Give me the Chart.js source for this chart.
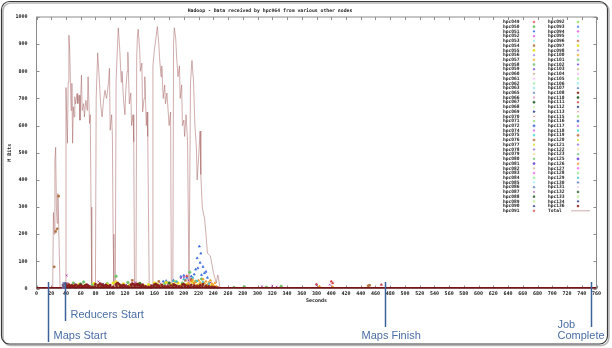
<!DOCTYPE html>
<html>
<head>
<meta charset="utf-8">
<title>Hadoop - Data received by hpc064</title>
<script src="https://cdn.jsdelivr.net/npm/chart.js@4.4.1/dist/chart.umd.min.js"></script>
<style>
  html, body { margin: 0; padding: 0; background: #fff; }
  #chart { display: block; }
</style>
</head>
<body>
<canvas id="chart" width="612" height="348"></canvas>
<script>
// --- datos ---
const hostsLeft = ['hpc049','hpc050','hpc051','hpc052','hpc053','hpc054','hpc055','hpc056','hpc057','hpc058',
  'hpc059','hpc060','hpc061','hpc062','hpc063','hpc065','hpc066','hpc067','hpc068','hpc069',
  'hpc070','hpc071','hpc072','hpc074','hpc075','hpc076','hpc077','hpc078','hpc079','hpc080',
  'hpc081','hpc082','hpc083','hpc084','hpc085','hpc086','hpc087','hpc088','hpc089','hpc090','hpc091'];
const hostsRight = ['hpc092','hpc093','hpc094','hpc095','hpc096','hpc097','hpc098','hpc100','hpc101','hpc102',
  'hpc103','hpc104','hpc105','hpc106','hpc107','hpc108','hpc110','hpc111','hpc112','hpc113',
  'hpc115','hpc116','hpc117','hpc118','hpc119','hpc120','hpc121','hpc122','hpc123','hpc125',
  'hpc126','hpc127','hpc128','hpc129','hpc130','hpc131','hpc132','hpc133','hpc134','hpc136'];

const xTicksMax = 760;   // Seconds
const yTicksMax = 1000;  // M Bits

// Total (línea)
const totalSeconds = [0,20,22,23,24,25,26,27,28,29,30,31,32,39,
  40,41,42,43,44,45,46,47,48,49,50,51,52,53,55,56,58,59,61,62,64,65,67,69,70,72,73,74,75,80,
  81,83,85,87,89,91,93,95,96,98,99,100,102,103,104,105,107,
  108,110,111,113,115,116,118,120,121,123,124,126,128,129,131,132,133,135,
  136,137,138,140,141,143,144,146,147,149,150,151,153,157,
  158,160,162,164,166,167,169,170,172,174,175,177,179,180,182,183,185,
  186,187,189,190,192,194,195,197,198,200,201,203,205,207,208,
  209,211,212,213,215,217,218,220,222,223,225,227,228,230,232,234,236,238,240,242,244,246,247,249,760];
const totalMbits = [0,0,0,280,200,470,520,300,240,350,250,120,0,0,
  740,620,535,760,933,878,767,656,756,535,669,632,706,680,718,681,712,620,786,656,681,632,693,656,780,608,640,300,0,0,
  700,868,780,681,632,693,730,700,718,767,811,583,640,560,200,0,0,
  760,900,960,880,760,800,700,640,720,800,870,680,720,600,640,540,0,0,
  850,930,955,880,800,830,650,700,780,600,650,560,0,0,
  820,880,920,965,900,850,780,820,700,750,680,720,640,600,650,0,0,
  900,960,920,860,780,820,700,750,600,620,560,640,540,0,0,
  760,840,800,770,600,520,400,480,580,420,300,270,260,200,130,125,120,90,60,40,20,50,40,0,0];

// nodos inactivos: todo el trabajo a 0
const idleSeconds = [0, 760];
const idleMbits = [0, 0];

// puntos de los nodos (segundos, M bits)
const hpc136Points = [[36,12],[38,18],[40,15],[42,10],[44,14],[46,9],[48,12],[50,8],[52,11],[54,13],[56,7],[58,10],
  [60,12],[62,9],[64,6],[66,11],[68,14],[70,10],[72,8],[76,5],[80,16],[84,12],[86,18],[88,14],[90,11],[92,9],
  [94,13],[96,10],[98,8],[100,12],[104,6],[108,15],[110,20],[112,16],[114,12],[116,9],[118,13],[120,10],[124,7],
  [128,14],[130,18],[132,15],[134,12],[136,17],[138,14],[140,11],[142,9],[144,13],[148,8],[152,6],[156,10],
  [160,14],[162,17],[164,12],[166,10],[170,13],[174,9],[178,8],[182,11],[186,15],[188,12],[190,10],[194,8],
  [198,14],[200,16],[202,12],[206,10],[210,13],[214,11],[218,9],[222,12],[226,15],[230,10],[234,8],[238,6],[242,5],[246,3]];
const hpc108Points = [[37,6],[41,9],[45,5],[49,7],[53,4],[57,8],[61,5],[65,9],[69,6],[73,4],[79,7],[83,9],[87,6],
  [91,5],[95,8],[99,6],[103,4],[109,9],[113,7],[117,5],[121,8],[125,6],[129,9],[133,7],[137,10],[141,6],[145,8],
  [149,5],[155,4],[159,8],[163,9],[167,6],[171,7],[175,5],[179,6],[185,8],[189,9],[193,7],[197,6],[201,8],[205,9],
  [209,7],[213,6],[217,8],[221,7],[225,9],[229,6],[233,5],[237,4],[241,3]];
const hpc055Points = [[44,14],[50,10],[58,16],[66,12],[78,18],[84,12],[96,15],[104,20],[108,24],[112,14],[118,17],
  [126,12],[140,18],[146,10],[152,14],[160,20],[164,16],[170,12],[176,22],[180,18],[184,14],[188,25],[192,20],
  [196,12],[204,16],[212,22],[220,14],[226,18],[232,10],[238,12]];
const hpc087Points = [[41,48],[42,20],[46,12],[52,16],[60,10],[70,14],[84,26],[90,18],[100,12],[110,20],[122,14],
  [134,22],[144,16],[156,12],[168,18],[178,14],[190,24],[196,38],[200,42],[206,30],[214,20],[224,16],[236,22],
  [306,8],[320,10],[326,6],[380,12],[398,14]];
const hpc126Points = [[206,20],[208,14],[210,26],[212,32],[214,18],[216,24],[218,12],[220,30],[222,22],[224,16],
  [226,34],[228,20],[230,26],[232,14],[234,22],[236,30],[238,18],[240,12],[242,20],[244,8],[384,8],[402,6]];
const hpc051Points = [[172,26],[176,28],[186,30],[196,44],[200,48],[204,40],[210,45],[214,52],[216,70],[218,112],
  [219,75],[221,155],[222,95],[223,129],[224,50],[226,80],[228,57],[230,62],[232,40]];
const hpc050Points = [[50,20],[64,24],[76,14],[96,18],[108,45],[124,22],[142,14],[160,10],[174,18],[198,20],
  [208,60],[216,26],[224,35],[268,4],[282,6],[312,5],[332,8]];
const hpc054Points = [[24,80],[26,210],[28,220],[30,340],[130,30],[166,26],[202,30],[210,35],[450,10],[452,12]];
const hpc129Points = [[186,28],[190,26],[200,34],[212,40],[218,28],[226,24],[234,18]];
const hpc111Points = [[204,46],[210,30],[380,16],[400,26],[402,20],[468,14]];
const hpc067Points = [[60,16],[90,14],[140,18],[180,20]];

const hostPoints = {
  hpc136: hpc136Points, hpc108: hpc108Points, hpc055: hpc055Points, hpc087: hpc087Points, hpc126: hpc126Points,
  hpc051: hpc051Points, hpc050: hpc050Points, hpc054: hpc054Points, hpc129: hpc129Points,
  hpc111: hpc111Points, hpc067: hpc067Points
};

// eventos del job (segundos)
const eventNames = ['Maps Start', 'Reducers Start', 'Maps Finish', 'Job Complete'];
const eventSeconds = [16, 39, 473, 752];

// --- estilos ---
const palette = ['#e06666','#a0e080','#5577dd','#dd66dd','#55dddd','#c88060','#e8e030','#aa88dd','#eebb44','#88cc88',
  '#7755dd','#ccbb99','#ee77ee','#aaeeaa','#aaeeee','#6688bb','#ddaacc','#336633','#ccf0aa','#334488'];
const styles = ['rect','circle','triangle','rectRot','crossRot','rect','circle','triangle'];
const colorOverride = {
  hpc136: '#8b1c1c', hpc108: '#7a2a1a', hpc055: '#e6e41a', hpc087: '#9a1fa0', hpc126: '#f09a20', hpc051: '#3d6fe0',
  hpc050: '#6cc46c', hpc054: '#b0703e', hpc129: '#40bccc', hpc111: '#d03a3a', hpc067: '#2f6a2f'
};
const totalColor = 'rgba(170,105,105,0.55)';
const gnuFont = '"DejaVu Sans Mono", monospace';

const allHosts = hostsLeft.concat(hostsRight);
// como en gnuplot, la última serie queda encima
const datasets = allHosts.map((h, i) => {
  const col = colorOverride[h] || palette[i % palette.length];
  return {
    label: h,
    data: (hostPoints[h] || []).map(p => ({ x: p[0], y: p[1] })),
    pointStyle: styles[i % styles.length],
    pointRadius: 1.25,
    borderWidth: 0.7,
    borderColor: col,
    backgroundColor: col,
    showLine: false,
    order: 200 - i
  };
});
datasets.push({
  label: 'Total',
  data: totalSeconds.map((s, i) => ({ x: s, y: totalMbits[i] })),
  showLine: true,
  borderColor: totalColor,
  borderWidth: 1,
  pointRadius: 0,
  order: 500
});
datasets.push({
  label: 'idle',
  data: idleSeconds.map((s, i) => ({ x: s, y: idleMbits[i] })),
  showLine: true,
  borderColor: '#7a1414',
  borderWidth: 3,
  pointRadius: 0,
  order: 0
});

// marco, ticks hacia dentro (estilo gnuplot)
const gnuplotAxes = {
  id: 'gnuplotAxes',
  beforeDatasetsDraw(chart) {
    const { ctx, chartArea: a, scales: { x, y } } = chart;
    ctx.save();
    ctx.strokeStyle = '#8c8c8c';
    ctx.lineWidth = 1;
    ctx.strokeRect(a.left, a.top, a.right - a.left, a.bottom - a.top);
    ctx.beginPath();
    x.ticks.forEach(t => {
      const px = Math.round(x.getPixelForValue(t.value)) + 0.5;
      ctx.moveTo(px, a.bottom); ctx.lineTo(px, a.bottom - 3);
      ctx.moveTo(px, a.top); ctx.lineTo(px, a.top + 3);
    });
    y.ticks.forEach(t => {
      const py = Math.round(y.getPixelForValue(t.value)) + 0.5;
      ctx.moveTo(a.left, py); ctx.lineTo(a.left + 3, py);
      ctx.moveTo(a.right, py); ctx.lineTo(a.right - 3, py);
    });
    ctx.stroke();
    ctx.restore();
  }
};

// título, ejes, leyenda, anotaciones y marco redondeado
const overlay = {
  id: 'overlay',
  afterDraw(chart) {
    const { ctx, chartArea: a, scales: { x } } = chart;
    ctx.save();

    // marco exterior con sombra
    ctx.strokeStyle = '#b5b5b5';
    ctx.lineWidth = 1.5;
    ctx.beginPath(); ctx.roundRect(3, 3, 606, 342.5, 8); ctx.stroke();
    ctx.strokeStyle = '#3a3a3a';
    ctx.lineWidth = 1.2;
    ctx.beginPath(); ctx.roundRect(1.5, 1.5, 606, 342.5, 8); ctx.stroke();

    // textos gnuplot
    ctx.fillStyle = '#222';
    ctx.font = 'bold 4.8px ' + gnuFont;
    ctx.textAlign = 'center';
    ctx.textBaseline = 'middle';
    ctx.fillText('Hadoop - Data received by hpc064 from various other nodes', 270, 11);
    ctx.font = 'bold 5px ' + gnuFont;
    ctx.fillText('Seconds', (a.left + a.right) / 2, 301);
    ctx.save();
    ctx.translate(10, (a.top + a.bottom) / 2);
    ctx.rotate(-Math.PI / 2);
    ctx.fillText('M Bits', 0, 0);
    ctx.restore();

    // leyenda en dos columnas
    const rowH = 4.72;
    const cols = [{ tx: 503, mx: 534, names: hostsLeft }, { tx: 548, mx: 578, names: hostsRight.concat(['Total']) }];
    ctx.font = 'bold 4.6px ' + gnuFont;
    ctx.textAlign = 'left';
    cols.forEach(c => {
      c.names.forEach((n, r) => {
        const yy = 22 + r * rowH;
        ctx.fillStyle = '#222';
        ctx.fillText(n, c.tx, yy);
        const ds = chart.data.datasets.find(d => d.label === n);
        if (n === 'Total') {
          ctx.strokeStyle = totalColor; ctx.lineWidth = 1;
          ctx.beginPath(); ctx.moveTo(571, yy); ctx.lineTo(590, yy); ctx.stroke();
        } else if (Chart.helpers && Chart.helpers.drawPoint) {
          ctx.strokeStyle = ds.borderColor; ctx.fillStyle = ds.backgroundColor; ctx.lineWidth = 0.6;
          Chart.helpers.drawPoint(ctx, { pointStyle: ds.pointStyle, radius: 1.1, rotation: 0, borderWidth: 0.6 }, c.mx, yy);
        } else {
          ctx.fillStyle = ds.backgroundColor; ctx.fillRect(c.mx - 1, yy - 1, 2, 2);
        }
      });
    });

    // anotaciones de eventos
    const blue = '#3d6199';
    const lineEnds = [342, 321, 327, 327];
    ctx.strokeStyle = blue;
    ctx.lineWidth = 1.5;
    const ex = eventSeconds.map(s => Math.round(x.getPixelForValue(s)) + 0.5);
    ctx.fillStyle = 'rgba(90,140,220,0.55)';
    ctx.fillRect(ex[1] - 3.5, 282, 4, 7);
    ex.forEach((px, i) => {
      ctx.beginPath(); ctx.moveTo(px, 282); ctx.lineTo(px, lineEnds[i]); ctx.stroke();
    });
    ctx.fillStyle = '#4a6ea6';
    ctx.font = '11px "Liberation Sans", Arial, sans-serif';
    ctx.textAlign = 'left';
    ctx.fillText(eventNames[0], ex[0] + 5, 336);
    ctx.fillText(eventNames[1], ex[1] + 5, 315);
    ctx.fillText(eventNames[2], ex[2] - 24, 336);
    const jc = eventNames[3].split(' ');
    ctx.fillText(jc[0], ex[3] - 34, 325);
    ctx.fillText(jc[1], ex[3] - 34, 336);
    ctx.restore();
  }
};

const ctx = document.getElementById('chart').getContext('2d');
const chart = new Chart(ctx, {
  type: 'scatter',
  data: { datasets },
  options: {
    responsive: false,
    animation: false,
    layout: { padding: { left: 0, right: 15.5, top: 17, bottom: 0 } },
    plugins: { legend: { display: false }, tooltip: { enabled: false }, title: { display: false } },
    scales: {
      x: {
        type: 'linear', min: 0, max: xTicksMax,
        grid: { display: false, drawTicks: false },
        border: { display: false },
        ticks: { stepSize: 20, autoSkip: false, maxRotation: 0, padding: 2, color: '#222',
          callback: v => String(v),
          font: { family: gnuFont, size: 5, weight: 'bold' } },
        afterFit: s => { s.height = 59.5; }
      },
      y: {
        min: 0, max: yTicksMax,
        grid: { display: false, drawTicks: false },
        border: { display: false },
        ticks: { stepSize: 100, padding: 9, color: '#222',
          callback: v => String(v),
          font: { family: gnuFont, size: 5, weight: 'bold' } },
        afterFit: s => { s.width = 36.5; }
      }
    }
  },
  plugins: [gnuplotAxes, overlay]
});
</script>
</body>
</html>
